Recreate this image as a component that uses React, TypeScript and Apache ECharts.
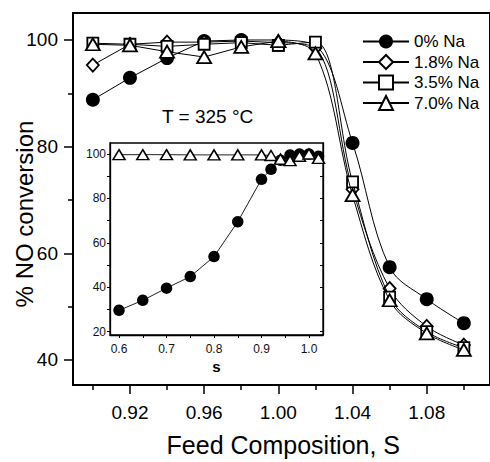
import React, { useEffect, useRef } from 'react';
import * as echarts from 'echarts';

const FONT = '"Liberation Sans", Arial, Helvetica, sans-serif';

// ---- Main chart data (Feed composition S vs % NO conversion) ----
const feedS = [0.90, 0.92, 0.94, 0.96, 0.98, 1.00, 1.02, 1.04, 1.06, 1.08, 1.10];
const na0 = [88.8, 92.9, 96.6, 99.8, 100.0, 100.0, 99.0, 80.7, 57.4, 51.4, 46.9];
const na18 = [95.3, 99.2, 99.6, 99.6, 99.8, 99.5, 98.5, 72.0, 53.4, 46.3, 42.8];
const na35 = [99.4, 99.2, 98.8, 99.2, 99.5, 99.0, 99.6, 73.4, 51.8, 45.3, 42.3];
const na70 = [99.2, 99.0, 97.8, 96.8, 98.7, 99.8, 97.5, 70.9, 51.2, 45.0, 41.9];

const seriesNames = ['0% Na', '1.8% Na', '3.5% Na', '7.0% Na'];

// ---- Inset data ----
const insetS = [0.60, 0.65, 0.70, 0.75, 0.80, 0.85, 0.90, 0.92, 0.94, 0.96, 0.98, 1.00, 1.02];
const insetNa0 = [29.6, 34.1, 39.6, 44.8, 53.8, 69.5, 88.6, 93.1, 97.2, 99.5, 100.0, 100.0, 99.0];
const insetNa70 = [99.7, 99.7, 99.7, 99.6, 99.6, 99.6, 99.6, 99.3, 97.7, 97.0, 99.0, 100.0, 98.0];

// ---- Tick labels ----
const mainXMajor = [0.92, 0.96, 1.00, 1.04, 1.08];
const mainXMinor = [0.90, 0.94, 0.98, 1.02, 1.06, 1.10];
const mainYMajor = [40, 60, 80, 100];
const mainYMinor = [50, 70, 90];
const insetXLabels = [0.6, 0.7, 0.8, 0.9, 1.0];
const insetXTicks = [0.6, 0.65, 0.7, 0.75, 0.8, 0.85, 0.9, 0.95, 1.0];
const insetYLabels = [20, 40, 60, 80, 100];
const insetYTicks = [20, 30, 40, 50, 60, 70, 80, 90, 100];

export default function App() {
  const ref = useRef<HTMLDivElement>(null);

  useEffect(() => {
    const chart = echarts.init(ref.current!, null, { renderer: 'svg' });

    // the filled-circle markers at S = 1.00 and 1.02 are hidden behind the open markers in the main panel
    const styles = [
      { symbol: 'circle', size: 14, fill: '#000', bw: 0, hideAt: [1.00, 1.02] },
      { symbol: 'diamond', size: [12, 13], fill: '#fff', bw: 1.8, hideAt: [] as number[] },
      { symbol: 'rect', size: 11, fill: '#fff', bw: 1.8, hideAt: [] as number[] },
      { symbol: 'triangle', size: [14, 12], fill: '#fff', bw: 1.8, hideAt: [] as number[] },
    ];
    const valueSets = [na0, na18, na35, na70];
    const FIT_FROM = 1.0;

    const mainSeries: any[] = [];
    valueSets.forEach((vals, gi) => {
      const st = styles[gi];
      const pts = feedS.map((x, i) => [x, vals[i]]);
      const toItem = (p: number[]) =>
        st.hideAt.some((h) => Math.abs(h - p[0]) < 1e-6)
          ? { value: p, symbol: 'none' }
          : { value: p };
      const common = {
        type: 'line',
        xAxisIndex: 0,
        yAxisIndex: 0,
        symbol: st.symbol,
        symbolSize: st.size,
        showSymbol: true,
        itemStyle: { color: st.fill, borderColor: '#000', borderWidth: st.bw, opacity: 1 },
        lineStyle: { color: '#000', width: 1 },
        z: 3 + gi,
      };
      mainSeries.push({
        ...common,
        name: seriesNames[gi],
        data: pts.filter((p) => p[0] <= FIT_FROM + 1e-6).map(toItem),
      });
      mainSeries.push({
        ...common,
        name: seriesNames[gi] + ' fit',
        smooth: 0.35,
        data: pts.filter((p) => p[0] >= FIT_FROM - 1e-6).map(toItem),
      });
    });

    const insetSeries = [
      {
        type: 'line',
        name: 'inset 0% Na',
        xAxisIndex: 2,
        yAxisIndex: 2,
        data: insetS.map((x, i) => [x, insetNa0[i]]),
        symbol: 'circle',
        symbolSize: 11.5,
        itemStyle: { color: '#000', borderWidth: 0 },
        lineStyle: { color: '#222', width: 1 },
        z: 8,
      },
      {
        type: 'line',
        name: 'inset 7.0% Na',
        xAxisIndex: 2,
        yAxisIndex: 2,
        data: insetS.map((x, i) => [x, insetNa70[i]]),
        symbol: 'triangle',
        symbolSize: [12, 10],
        itemStyle: { color: '#fff', borderColor: '#000', borderWidth: 1.5 },
        lineStyle: { color: '#222', width: 1 },
        z: 9,
      },
    ];

    const tickStyle = { color: '#000', width: 1.5 };

    const option: any = {
      animation: false,
      backgroundColor: '#fff',
      textStyle: { fontFamily: FONT },
      grid: [
        {
          left: 73, top: 13, right: -10, bottom: 77,
          show: true, borderColor: '#000', borderWidth: 2, backgroundColor: 'transparent',
          containLabel: false,
        },
        {
          left: 110, top: 143, width: 213, height: 192,
          show: true, borderColor: '#000', borderWidth: 1.3, backgroundColor: '#fff',
          z: 5, containLabel: false,
        },
      ],
      xAxis: [
        {
          type: 'value', gridIndex: 0, min: 0.8893, max: 1.1141, position: 'bottom',
          axisLine: { show: true, lineStyle: { color: '#000', width: 2 } },
          axisTick: { show: true, customValues: mainXMajor, length: 9, lineStyle: tickStyle },
          axisLabel: {
            customValues: mainXMajor, formatter: (v: number) => v.toFixed(2),
            fontSize: 19, color: '#000', margin: 18, fontFamily: FONT,
          },
          splitLine: { show: false },
        },
        {
          type: 'value', gridIndex: 0, min: 0.8893, max: 1.1141, position: 'bottom',
          axisLine: { show: false },
          axisTick: { show: true, customValues: mainXMinor, length: 5, lineStyle: tickStyle },
          axisLabel: { show: false },
          splitLine: { show: false },
        },
        {
          type: 'value', gridIndex: 1, min: 0.581, max: 1.0295, position: 'bottom', z: 6,
          axisLine: { show: true, lineStyle: { color: '#000', width: 1.3 } },
          axisTick: { show: true, customValues: insetXTicks, length: 3, lineStyle: { color: '#000', width: 1 } },
          axisLabel: {
            customValues: insetXLabels, formatter: (v: number) => v.toFixed(1),
            fontSize: 12, color: '#111', margin: 8, fontFamily: FONT,
          },
          name: 's', nameLocation: 'middle', nameGap: 24,
          nameTextStyle: { fontSize: 15, fontWeight: 'bold', color: '#000', fontFamily: FONT },
          splitLine: { show: false },
        },
      ],
      yAxis: [
        {
          type: 'value', gridIndex: 0, min: 35.31, max: 105.06, position: 'left',
          axisLine: { show: true, lineStyle: { color: '#000', width: 2 } },
          axisTick: { show: true, customValues: mainYMajor, length: 9, lineStyle: tickStyle },
          axisLabel: {
            customValues: mainYMajor, formatter: (v: number) => String(v),
            fontSize: 19, color: '#000', margin: 15, fontFamily: FONT,
          },
          splitLine: { show: false },
        },
        {
          type: 'value', gridIndex: 0, min: 35.31, max: 105.06, position: 'left',
          axisLine: { show: false },
          axisTick: { show: true, customValues: mainYMinor, length: 5, lineStyle: tickStyle },
          axisLabel: { show: false },
          splitLine: { show: false },
        },
        {
          type: 'value', gridIndex: 1, min: 18.5, max: 104.95, position: 'left', z: 6,
          axisLine: { show: true, lineStyle: { color: '#000', width: 1.3 } },
          axisTick: { show: true, customValues: insetYTicks, length: 3, lineStyle: { color: '#000', width: 1 } },
          axisLabel: {
            customValues: insetYLabels, formatter: (v: number) => String(v),
            fontSize: 12, color: '#111', margin: 4, fontFamily: FONT,
          },
          splitLine: { show: false },
        },
        {
          type: 'value', gridIndex: 1, min: 18.5, max: 104.95, position: 'right', z: 6,
          axisLine: { show: true, lineStyle: { color: '#000', width: 1.3 } },
          axisTick: { show: true, inside: true, customValues: insetYTicks, length: 3, lineStyle: { color: '#000', width: 1 } },
          axisLabel: { show: false },
          splitLine: { show: false },
        },
      ],
      legend: {
        show: true,
        orient: 'vertical',
        left: 362,
        top: 33,
        padding: 0,
        itemWidth: 46,
        itemHeight: 17.5,
        itemGap: 3.5,
        selectedMode: false,
        data: seriesNames,
        textStyle: { fontSize: 17, color: '#000', fontFamily: FONT },
      },
      graphic: [
        {
          type: 'text', left: 162, top: 107,
          style: { text: 'T = 325 °C', fontSize: 19, fontFamily: FONT, fill: '#000' },
        },
        {
          type: 'text', x: 283.3, y: 445,
          style: {
            text: 'Feed Composition, S', fontSize: 25, fontFamily: FONT, fill: '#000',
            align: 'center', verticalAlign: 'middle',
          },
        },
        {
          type: 'text', x: 24, y: 214, rotation: Math.PI / 2,
          style: {
            text: '% NO conversion', fontSize: 24, fontFamily: FONT, fill: '#000',
            align: 'center', verticalAlign: 'middle',
          },
        },
      ],
      series: [...mainSeries, ...insetSeries],
    };

    chart.setOption(option);
    return () => chart.dispose();
  }, []);

  return (
    <div
      ref={ref}
      style={{ position: 'fixed', left: 0, top: 0, width: 490, height: 462, background: '#fff' }}
    />
  );
}
